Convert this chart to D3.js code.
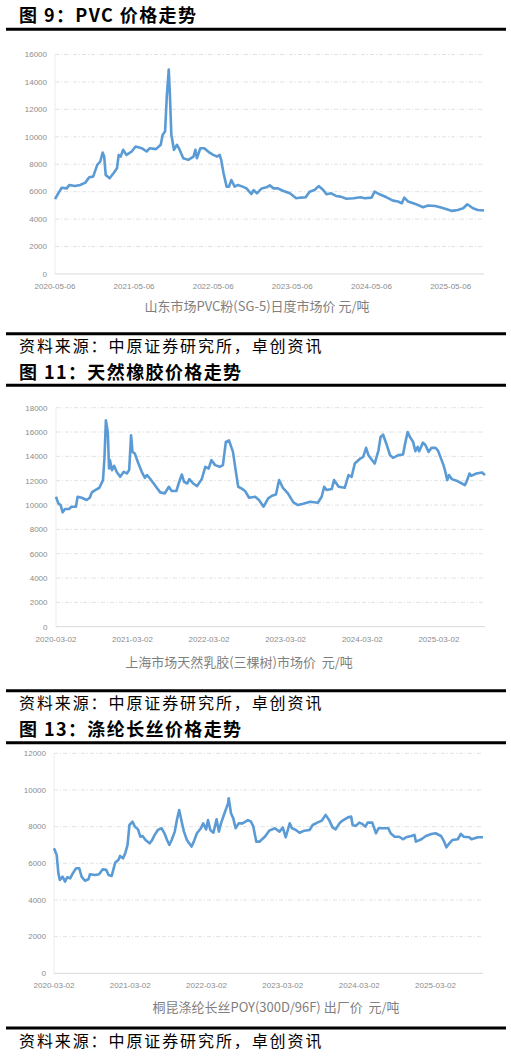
<!DOCTYPE html>
<html><head><meta charset="utf-8">
<script src="https://cdn.jsdelivr.net/npm/d3@7/dist/d3.min.js"></script>
<style>body{margin:0;background:#fff}</style>
</head><body>
<svg id="c" width="511" height="1056" xmlns="http://www.w3.org/2000/svg"></svg>
<script>
// ---------- DATA ----------
const pvcDates = ["2020-05-06","2020-05-21","2020-06-06","2020-06-29","2020-07-11","2020-08-06","2020-08-30","2020-09-23","2020-10-11","2020-10-29","2020-11-17","2020-12-01","2020-12-12","2020-12-19","2020-12-26","2021-01-13","2021-01-31","2021-02-16","2021-02-24","2021-03-05","2021-03-16","2021-04-01","2021-04-25","2021-05-13","2021-06-10","2021-07-03","2021-07-18","2021-08-15","2021-09-06","2021-09-15","2021-09-26","2021-10-04","2021-10-13","2021-10-18","2021-10-25","2021-11-06","2021-11-20","2021-12-01","2021-12-19","2022-01-11","2022-02-04","2022-02-13","2022-02-20","2022-03-08","2022-03-26","2022-04-18","2022-05-06","2022-05-24","2022-06-05","2022-06-12","2022-06-23","2022-07-07","2022-07-18","2022-07-29","2022-08-13","2022-08-28","2022-09-19","2022-10-07","2022-10-29","2022-11-09","2022-11-24","2022-12-16","2023-01-07","2023-01-22","2023-02-09","2023-03-01","2023-03-23","2023-04-25","2023-05-24","2023-06-16","2023-07-07","2023-07-25","2023-08-17","2023-09-05","2023-09-26","2023-10-11","2023-11-02","2023-11-24","2023-12-16","2024-01-11","2024-02-13","2024-03-16","2024-04-04","2024-05-06","2024-05-20","2024-06-12","2024-07-14","2024-08-13","2024-09-05","2024-09-23","2024-10-04","2024-10-22","2024-11-24","2024-12-30","2025-01-22","2025-02-24","2025-03-23","2025-04-18","2025-05-13","2025-06-08","2025-07-03","2025-07-22","2025-08-17","2025-09-08","2025-10-07"];
const pvcValues = [5450,5880,6290,6240,6490,6410,6490,6660,7050,7100,7950,8200,8850,8560,7220,6980,7340,7710,8680,8560,9050,8680,8930,9290,9170,8930,9170,9100,9420,10150,10390,12950,14900,13200,10150,9050,9420,9100,8440,8320,8560,9050,8440,9170,9170,8860,8680,8560,8680,8320,7340,6370,6370,6850,6370,6490,6370,6240,5830,6120,5880,6240,6320,6460,6240,6240,6070,5880,5520,5570,5590,6000,6120,6410,6120,5810,5880,5690,5640,5490,5520,5590,5520,5570,6000,5810,5590,5350,5280,5160,5570,5280,5110,4870,4990,4960,4840,4720,4600,4670,4790,5080,4790,4670,4630];

const rubberDates = ["2020-03-02","2020-03-13","2020-03-24","2020-04-03","2020-04-14","2020-05-03","2020-05-14","2020-06-05","2020-06-13","2020-07-03","2020-07-26","2020-08-10","2020-08-20","2020-09-05","2020-09-25","2020-10-12","2020-10-19","2020-10-26","2020-11-04","2020-11-10","2020-11-14","2020-11-24","2020-12-04","2020-12-16","2021-01-02","2021-01-19","2021-02-03","2021-02-14","2021-02-23","2021-03-02","2021-03-13","2021-03-30","2021-04-15","2021-04-30","2021-05-10","2021-05-24","2021-06-16","2021-07-12","2021-08-03","2021-08-22","2021-09-05","2021-09-27","2021-10-08","2021-10-23","2021-11-03","2021-11-18","2021-11-28","2021-12-16","2022-01-04","2022-01-26","2022-02-12","2022-02-28","2022-03-13","2022-03-31","2022-04-22","2022-05-07","2022-05-21","2022-06-05","2022-06-24","2022-07-08","2022-07-19","2022-08-03","2022-08-21","2022-09-09","2022-10-08","2022-10-26","2022-11-17","2022-12-09","2022-12-27","2023-01-15","2023-01-30","2023-02-17","2023-03-13","2023-04-08","2023-04-30","2023-05-25","2023-06-27","2023-08-03","2023-08-21","2023-09-02","2023-09-13","2023-10-08","2023-10-19","2023-11-10","2023-12-09","2023-12-27","2024-01-11","2024-01-26","2024-02-21","2024-03-06","2024-03-20","2024-03-31","2024-04-15","2024-04-30","2024-05-18","2024-05-28","2024-06-09","2024-06-27","2024-07-12","2024-07-26","2024-08-21","2024-09-12","2024-09-23","2024-10-04","2024-10-15","2024-10-30","2024-11-10","2024-11-21","2024-11-28","2024-12-16","2024-12-27","2025-01-12","2025-01-26","2025-02-14","2025-02-25","2025-03-06","2025-03-24","2025-03-31","2025-04-11","2025-04-19","2025-05-03","2025-05-25","2025-06-20","2025-07-04","2025-07-15","2025-07-26","2025-08-03","2025-08-28","2025-09-24","2025-10-08"];
const rubberValues = [10680,10140,10000,9400,9670,9670,9860,9860,10680,10600,10410,10600,11040,11230,11420,12050,13820,16960,16000,13000,13690,12870,13220,12730,12320,12730,12600,12870,15730,14370,14230,13410,12730,12240,12460,12180,11640,11040,10960,11500,11150,11150,11770,12510,11910,11770,12130,11770,11560,12130,13140,13000,13690,13280,13140,13280,15190,15320,14370,12730,11500,11370,11150,10600,10680,10410,9860,10550,10760,10870,12050,11420,10960,10220,10000,10110,10270,10190,10680,11500,11230,11310,12050,11500,11420,12460,12320,13410,13820,13960,14700,14100,13740,13410,14500,15590,15780,14910,14100,13880,14100,14150,15130,16000,15590,15190,14420,14780,14420,15130,14960,14370,14700,14700,14500,14100,13280,12870,12050,12460,12130,12000,11770,11640,12050,12590,12400,12590,12680,12460];

const polyDates = ["2020-03-02","2020-03-15","2020-03-23","2020-03-30","2020-04-12","2020-04-24","2020-05-04","2020-05-18","2020-06-02","2020-06-16","2020-07-01","2020-07-12","2020-07-28","2020-08-14","2020-08-21","2020-09-15","2020-10-04","2020-10-21","2020-11-07","2020-11-18","2020-12-03","2020-12-20","2021-01-04","2021-01-12","2021-01-26","2021-02-06","2021-02-17","2021-02-26","2021-03-13","2021-03-24","2021-04-08","2021-04-19","2021-04-30","2021-05-14","2021-06-02","2021-06-13","2021-06-27","2021-07-12","2021-07-30","2021-08-14","2021-08-25","2021-09-05","2021-09-16","2021-10-01","2021-10-11","2021-10-22","2021-11-03","2021-11-14","2021-11-28","2021-12-20","2021-12-31","2022-01-15","2022-02-03","2022-02-14","2022-02-28","2022-03-09","2022-03-20","2022-04-04","2022-04-19","2022-04-30","2022-05-10","2022-05-27","2022-06-13","2022-06-16","2022-06-27","2022-07-08","2022-07-19","2022-08-03","2022-08-21","2022-09-16","2022-10-01","2022-10-12","2022-10-26","2022-11-10","2022-12-06","2022-12-27","2023-01-23","2023-02-14","2023-03-02","2023-03-16","2023-04-04","2023-04-15","2023-05-03","2023-05-21","2023-06-13","2023-07-08","2023-07-23","2023-08-14","2023-09-05","2023-09-23","2023-10-04","2023-10-11","2023-10-26","2023-11-10","2023-11-28","2023-12-13","2024-01-08","2024-01-23","2024-01-30","2024-02-14","2024-03-02","2024-03-16","2024-03-31","2024-04-11","2024-05-03","2024-05-21","2024-06-02","2024-07-01","2024-07-19","2024-07-30","2024-08-18","2024-09-09","2024-09-27","2024-10-12","2024-11-06","2024-11-21","2024-11-28","2024-12-24","2025-01-15","2025-02-10","2025-03-02","2025-03-28","2025-04-12","2025-04-23","2025-05-07","2025-05-21","2025-06-16","2025-07-01","2025-07-15","2025-08-10","2025-08-21","2025-09-20","2025-10-15"];
const polyValues = [6820,6450,5450,5090,5270,5000,5240,5180,5490,5730,5730,5270,5050,5130,5400,5360,5400,5670,5640,5360,5310,6040,6180,6400,6270,6550,7000,8090,8270,8000,7850,7450,7490,7270,7090,7240,7550,7820,7910,7600,7270,7000,7270,7730,8360,8910,8270,7730,7270,6910,7180,7640,7910,8180,7850,8360,7820,7670,8400,7730,8180,8730,9270,9550,8730,8450,7910,8180,8180,8360,8270,8000,7180,7180,7450,7780,7910,7730,7950,7420,8180,7910,7820,7670,7780,7820,8090,8220,8330,8640,8450,8330,7960,7850,8180,8330,8510,8550,8090,8040,8220,8150,8000,8220,8220,7640,7910,7910,7910,7640,7450,7450,7310,7420,7490,7550,7180,7310,7490,7600,7640,7490,7180,6870,7090,7270,7310,7600,7450,7420,7310,7420,7420];

const pvcYTicks = [0,2000,4000,6000,8000,10000,12000,14000,16000];
const rubberYTicks = [0,2000,4000,6000,8000,10000,12000,14000,16000,18000];
const polyYTicks = [0,2000,4000,6000,8000,10000,12000];
const pvcXTicks = ["2020-05-06","2021-05-06","2022-05-06","2023-05-06","2024-05-06","2025-05-06"];
const rubberXTicks = ["2020-03-02","2021-03-02","2022-03-02","2023-03-02","2024-03-02","2025-03-02"];
const polyXTicks = ["2020-03-02","2021-03-02","2022-03-02","2023-03-02","2024-03-02","2025-03-02"];

const titles = ["图 9：PVC 价格走势","图 11：天然橡胶价格走势","图 13：涤纶长丝价格走势"];
const axisTitles = ["山东市场PVC粉(SG-5)日度市场价 元/吨","上海市场天然乳胶(三棵树)市场价  元/吨","桐昆涤纶长丝POY(300D/96F) 出厂价  元/吨"];
const sourceText = "资料来源：中原证券研究所，卓创资讯";

// ---------- DRAW ----------
const parse = d3.timeParse("%Y-%m-%d");
const svg = d3.select("#c");
svg.append("rect").attr("width",511).attr("height",1056).attr("fill","#fff");

const CJK = "'Noto Sans CJK SC','Noto Sans',sans-serif";
const NUM = "'Liberation Sans',Arial,sans-serif";

function drawChart(o){
  const g = svg.append("g");
  g.append("text").attr("x",19).attr("y",o.titleY).text(o.title)
    .attr("font-family",CJK).attr("font-weight",700).attr("font-size",18)
    .attr("letter-spacing",1.4).attr("fill","#000");
  [o.rule1,o.rule2].forEach(y=>g.append("line").attr("x1",6).attr("x2",506)
    .attr("y1",y).attr("y2",y).attr("stroke","#000").attr("stroke-width",3));
  const dates = o.dates.map(parse);
  const x = d3.scaleTime().domain([dates[0],dates[dates.length-1]]).range([o.left,o.right]);
  const y = d3.scaleLinear().domain([0,o.yTicks[o.yTicks.length-1]]).range([o.bottom,o.top]);
  g.selectAll(null).data(o.yTicks.slice(1)).join("line")
    .attr("x1",o.left).attr("x2",o.right).attr("y1",d=>y(d)).attr("y2",d=>y(d))
    .attr("stroke","#d9d9d9").attr("stroke-width",0.8).attr("stroke-dasharray","4,2,1,2");
  g.append("line").attr("x1",o.left).attr("x2",o.left).attr("y1",o.top).attr("y2",o.bottom)
    .attr("stroke","#e8e8e8").attr("stroke-width",0.8);
  g.append("line").attr("x1",o.left).attr("x2",o.right).attr("y1",y(0)).attr("y2",y(0))
    .attr("stroke","#d9d9d9").attr("stroke-width",1);
  g.selectAll(null).data(o.yTicks).join("text")
    .attr("x",o.yLabelX).attr("y",d=>y(d)).attr("dy","0.35em").attr("text-anchor","end")
    .attr("font-family",NUM).attr("font-size",8).attr("fill","#8c8c8c").text(d=>d);
  g.selectAll(null).data(o.xTicks).join("text")
    .attr("x",d=>x(parse(d))).attr("y",y(0)+15).attr("text-anchor","middle")
    .attr("font-family",NUM).attr("font-size",8).attr("fill","#8c8c8c").text(d=>d);
  const pts = dates.map((d,i)=>[d,o.values[i]]);
  g.append("path").datum(pts)
    .attr("d",d3.line().x(d=>x(d[0])).y(d=>y(d[1])))
    .attr("fill","none").attr("stroke","#5b9bd5").attr("stroke-width",2.6)
    .attr("stroke-linejoin","round");
  g.append("text").attr("x",o.axisTitleX).attr("y",o.axisTitleY).attr("text-anchor","middle")
    .attr("font-family",CJK).attr("font-size",13).attr("fill","#7f7f7f")
    .style("white-space","pre").text(o.axisTitle);
  g.append("text").attr("x",19).attr("y",o.sourceY).text(sourceText)
    .attr("font-family",CJK).attr("font-size",16).attr("letter-spacing",1.9).attr("fill","#000");
}

drawChart({title:titles[0],titleY:22,rule1:29.3,rule2:333.7,dates:pvcDates,values:pvcValues,
  yTicks:pvcYTicks,xTicks:pvcXTicks,left:55,right:484,top:54.5,bottom:274,yLabelX:47,
  axisTitle:axisTitles[0],axisTitleX:257,axisTitleY:311,sourceY:352});
drawChart({title:titles[1],titleY:379,rule1:385.3,rule2:690.8,dates:rubberDates,values:rubberValues,
  yTicks:rubberYTicks,xTicks:rubberXTicks,left:56,right:485,top:407.7,bottom:626.7,yLabelX:47.5,
  axisTitle:axisTitles[1],axisTitleX:239,axisTitleY:667,sourceY:709});
drawChart({title:titles[2],titleY:736,rule1:742.8,rule2:1028,dates:polyDates,values:polyValues,
  yTicks:polyYTicks,xTicks:polyXTicks,left:54,right:483,top:753.3,bottom:973.3,yLabelX:46,
  axisTitle:axisTitles[2],axisTitleX:276,axisTitleY:1012,sourceY:1047});
</script>
</body></html>
